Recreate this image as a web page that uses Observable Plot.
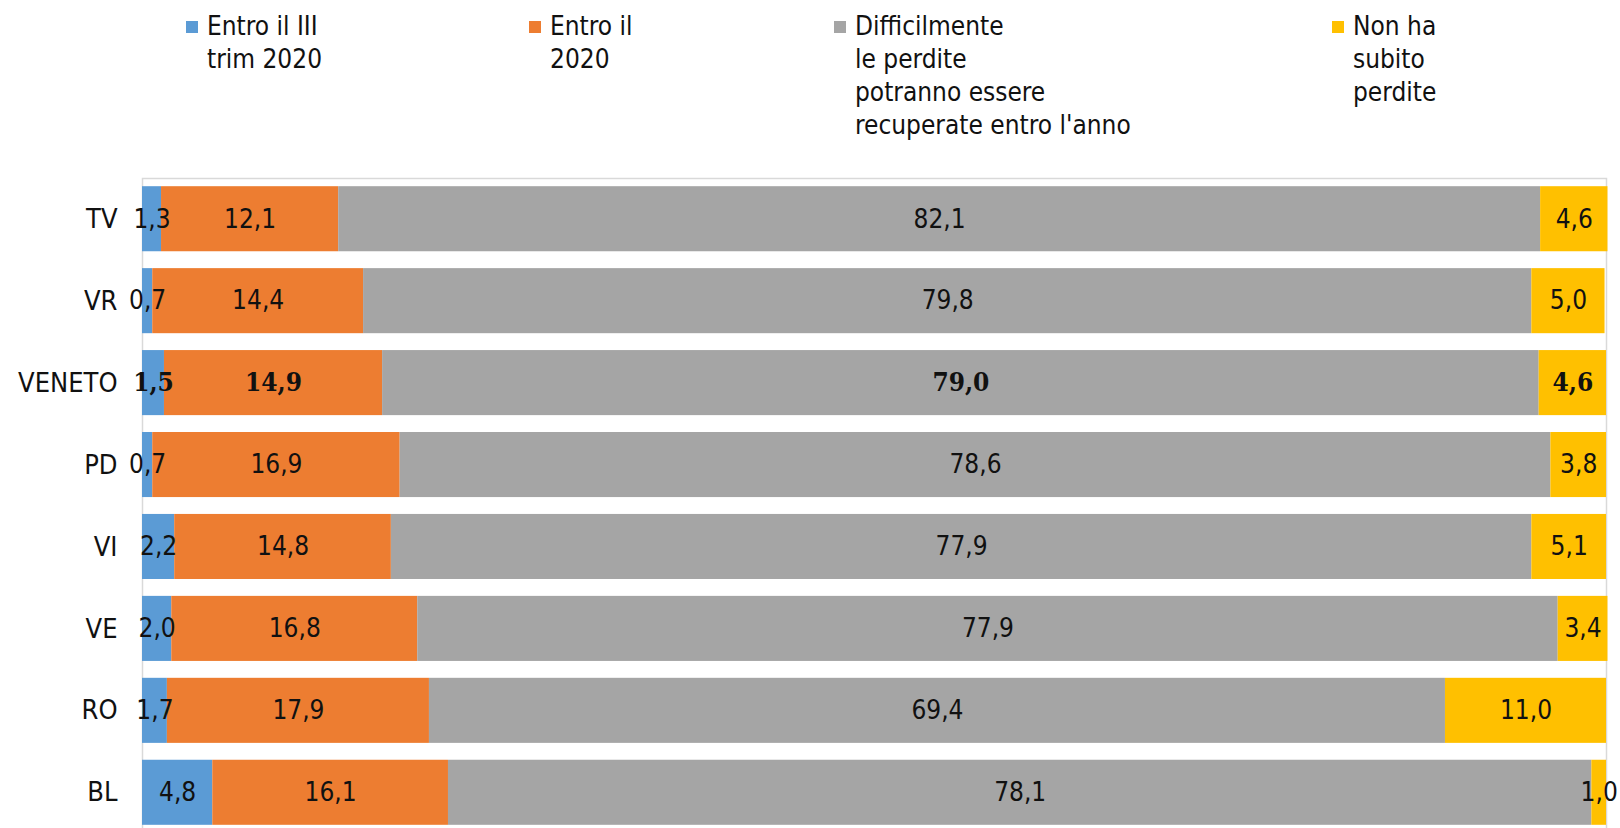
<!DOCTYPE html>
<html>
<head>
<meta charset="utf-8">
<script src="https://cdn.jsdelivr.net/npm/d3@7"></script>
<script src="https://cdn.jsdelivr.net/npm/@observablehq/plot@0.6"></script>
<style>
  html, body { margin: 0; padding: 0; background: #fff; }
  #wrap { position: relative; width: 1620px; height: 828px; overflow: hidden;
    font-family: "DejaVu Sans Condensed", "DejaVu Sans", sans-serif; font-stretch: condensed; color: #111; }
  .leg { position: absolute; top: 10px; font-size: 26px; line-height: 33px; white-space: nowrap; }
  .sw { position: absolute; width: 12px; height: 12px; top: 21px; }
  #chart { position: absolute; left: 0; top: 0; }
</style>
</head>
<body>
<div id="wrap"><div id="chart"></div></div>
<script>
const categories = ["TV", "VR", "VENETO", "PD", "VI", "VE", "RO", "BL"];
const seriesNames = [
  "Entro il III trim 2020",
  "Entro il 2020",
  "Difficilmente le perdite potranno essere recuperate entro l'anno",
  "Non ha subito perdite"
];
const legendLines = [
  ["Entro il III", "trim 2020"],
  ["Entro il", "2020"],
  ["Difficilmente", "le perdite", "potranno essere", "recuperate entro l'anno"],
  ["Non ha", "subito", "perdite"]
];
const colors = ["#5B9BD5", "#ED7D31", "#A5A5A5", "#FFC000"];
const entroIII = [1.3, 0.7, 1.5, 0.7, 2.2, 2.0, 1.7, 4.8];
const entro2020 = [12.1, 14.4, 14.9, 16.9, 14.8, 16.8, 17.9, 16.1];
const difficilmente = [82.1, 79.8, 79.0, 78.6, 77.9, 77.9, 69.4, 78.1];
const nonHaSubito = [4.6, 5.0, 4.6, 3.8, 5.1, 3.4, 11.0, 1.0];
const boldCategory = "VENETO";

const seriesValues = [entroIII, entro2020, difficilmente, nonHaSubito];
const data = [];
categories.forEach((c, i) => {
  seriesValues.forEach((vals, s) => {
    data.push({cat: c, series: seriesNames[s], value: vals[i]});
  });
});
const fmt = d => d.value.toFixed(1).replace(".", ",");

// Legend (HTML)
const wrap = document.getElementById("wrap");
const legendX = [207, 550, 855, 1353];
legendLines.forEach((lines, i) => {
  const sw = document.createElement("div");
  sw.className = "sw";
  sw.style.left = (legendX[i] - 21) + "px";
  sw.style.background = colors[i];
  wrap.appendChild(sw);
  const t = document.createElement("div");
  t.className = "leg";
  t.style.left = legendX[i] + "px";
  t.innerHTML = lines.join("<br>");
  wrap.appendChild(t);
});

const chart = Plot.plot({
  width: 1620,
  height: 828,
  marginTop: 178,
  marginLeft: 142,
  marginRight: 14,
  marginBottom: -4,
  style: {fontFamily: "'DejaVu Sans Condensed', 'DejaVu Sans', sans-serif", fontSize: "26px", color: "#111", background: "transparent"},
  x: {domain: [0, 100], axis: null},
  y: {domain: categories, range: [178, 833], paddingInner: 0.206, paddingOuter: 0.1, round: false, label: null},
  color: {domain: seriesNames, range: colors},
  marks: [
    Plot.frame({stroke: "#d9d9d9", strokeWidth: 1.5}),
    Plot.barX(data, Plot.stackX({x: "value", y: "cat", fill: "series", offset: null})),
    Plot.text(data, Plot.stackX({
      filter: d => d.cat !== boldCategory,
      x: "value", y: "cat", text: fmt, fill: "#111", fontSize: 26,
      fontFamily: "'DejaVu Sans Condensed', 'DejaVu Sans', sans-serif"
    })),
    Plot.text(data, Plot.stackX({
      filter: d => d.cat === boldCategory,
      x: "value", y: "cat", text: fmt, fill: "#111", fontSize: 26, fontWeight: "bold",
      fontFamily: "'DejaVu Serif Condensed', 'DejaVu Serif', serif"
    })),
    Plot.axisY({tickSize: 0, tickPadding: 25, fontSize: 27, label: null, fill: "#111"})
  ]
});
document.getElementById("chart").appendChild(chart);
</script>
</body>
</html>
